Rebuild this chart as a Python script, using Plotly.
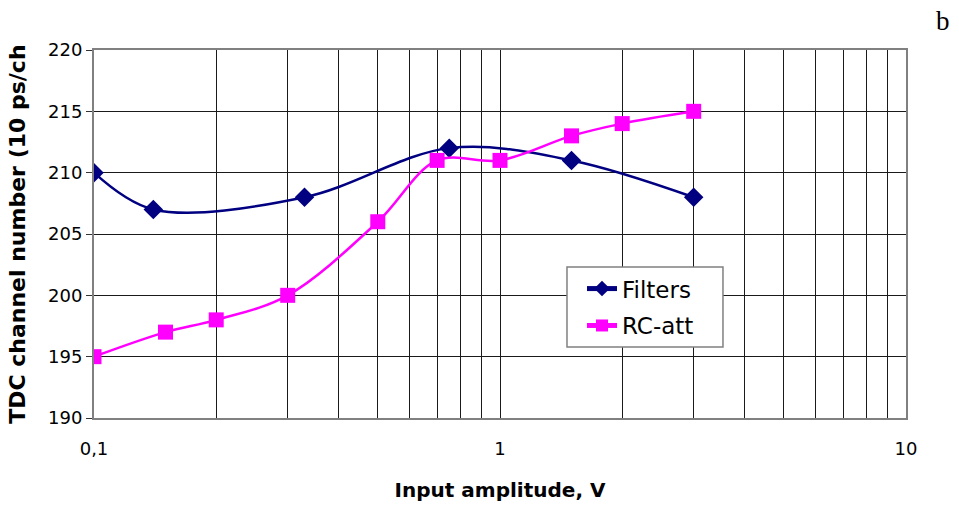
import plotly.graph_objects as go

# Measured TDC channel vs. input amplitude for two input conditioning schemes
filters_amp = [0.1, 0.14, 0.33, 0.75, 1.5, 3.0]
filters_tdc = [210, 207, 208, 212, 211, 208]

rcatt_amp = [0.1, 0.15, 0.2, 0.3, 0.5, 0.7, 1.0, 1.5, 2.0, 3.0]
rcatt_tdc = [195, 197, 198, 200, 206, 211, 211, 213, 214, 215]

# Log-axis grid: one line per digit in each decade, labels only on decades
x_grid = [d * 10 ** e for e in (-1, 0) for d in range(1, 10)] + [10]
x_labels = {0.1: "0,1", 1: "1", 10: "10"}
y_ticks = [190, 195, 200, 205, 210, 215, 220]

FONT = "DejaVu Sans"
GRID = "#1a1a1a"
FRAME = "#808080"

fig = go.Figure()
fig.add_trace(go.Scatter(
    x=filters_amp, y=filters_tdc, name="Filters", mode="lines+markers",
    legendgroup="f",
    line=dict(color="#000080", width=2.5, shape="spline", smoothing=1),
    marker=dict(symbol="diamond", size=15, color="#000080"),
))
fig.add_trace(go.Scatter(
    x=rcatt_amp, y=rcatt_tdc, name="RC-att", mode="lines+markers",
    legendgroup="r",
    line=dict(color="#FF00FF", width=2.5, shape="spline", smoothing=1),
    marker=dict(symbol="square", size=15, color="#FF00FF"),
))

fig.update_layout(
    width=959, height=510,
    margin=dict(l=94, r=53, t=50, b=92),
    paper_bgcolor="white", plot_bgcolor="white",
    font=dict(family=FONT, size=18, color="black"),
    showlegend=True,
    legend=dict(
        x=0.601, y=0.41, xanchor="left", yanchor="top",
        bgcolor="rgba(0,0,0,0)", borderwidth=0,
        font=dict(family=FONT, size=23, color="black"),
        itemsizing="constant", tracegroupgap=4,
    ),
    # White framed box behind the legend entries
    shapes=[dict(
        type="rect", xref="paper", yref="paper",
        x0=0.5825, x1=0.7746, y0=0.193, y1=0.410,
        fillcolor="white", line=dict(color=FRAME, width=1.5), layer="above",
    )],
)

fig.update_xaxes(
    type="log", range=[-1, 1],
    tickmode="array", tickvals=x_grid,
    ticktext=[x_labels.get(round(v, 6), "") for v in x_grid],
    showgrid=True, gridcolor=GRID, gridwidth=1,
    showline=True, linecolor=FRAME, linewidth=2, mirror=True,
    ticks="", ticklabelstandoff=13,
    zeroline=False,
    title=dict(text="<b>Input amplitude, V</b>", font=dict(family=FONT, size=20), standoff=25),
)
fig.update_yaxes(
    range=[190, 220], tickmode="array", tickvals=y_ticks,
    showgrid=True, gridcolor=GRID, gridwidth=1,
    showline=True, linecolor=FRAME, linewidth=2, mirror=True,
    ticks="outside", ticklen=6, tickcolor="#333",
    zeroline=False,
)

# Rotated y title, truncated at the top edge of the chart area
fig.add_annotation(
    text="<b>TDC channel number (10 ps/ch</b>", textangle=-90,
    xref="paper", yref="paper", x=-0.095, y=0.5, xanchor="center", yanchor="middle",
    showarrow=False, font=dict(family=FONT, size=22, color="black"),
)
# Panel label
fig.add_annotation(
    text="b", xref="paper", yref="paper", x=1.046, y=1.078,
    xanchor="center", yanchor="middle", showarrow=False,
    font=dict(family="Liberation Serif", size=27, color="black"),
)

fig.write_html("out.html")
